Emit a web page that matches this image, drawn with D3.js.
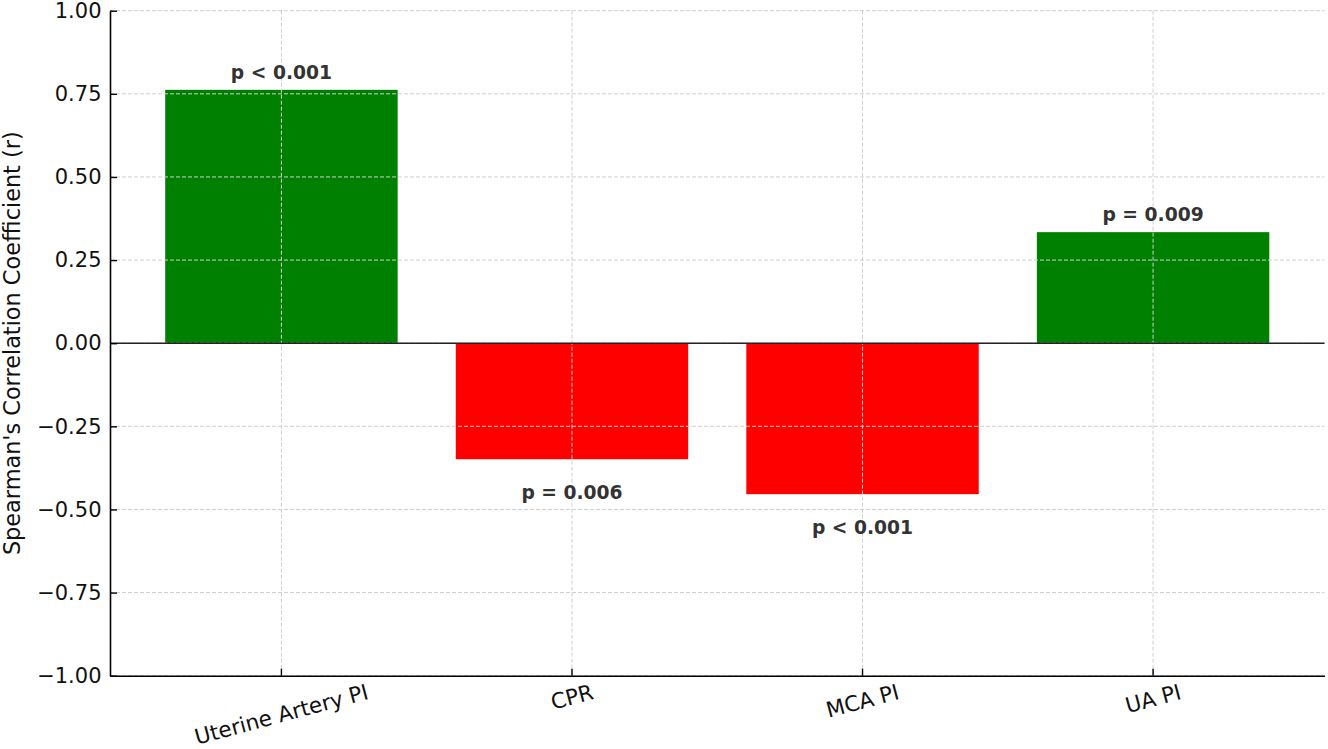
<!DOCTYPE html>
<html>
<head>
<meta charset="utf-8">
<script src="https://cdnjs.cloudflare.com/ajax/libs/d3/7.8.5/d3.min.js"></script>
<style>
  html, body { margin: 0; padding: 0; background: #fff; }
  svg { display: block; }
</style>
</head>
<body>
<div id="chart"></div>
<script>
// data
const categories = ["Uterine Artery PI", "CPR", "MCA PI", "UA PI"];
const rValues = [0.762, -0.349, -0.454, 0.334];
const pLabels = ["p < 0.001", "p = 0.006", "p < 0.001", "p = 0.009"];
const yTicks = [-1, -0.75, -0.5, -0.25, 0, 0.25, 0.5, 0.75, 1];

const W = 1328, H = 749;
const margin = {top: 10.7, right: 3.5, bottom: 73.3, left: 110};
const width = W - margin.left - margin.right,
      height = H - margin.top - margin.bottom;

const svg = d3.select("#chart")
  .append("svg")
    .attr("width", W)
    .attr("height", H);

const g = svg.append("g")
  .attr("transform", "translate(" + margin.left + "," + margin.top + ")");

const x = d3.scaleBand()
  .domain(categories)
  .range([0, width])
  .paddingInner(0.2)
  .paddingOuter(0.19);

const y = d3.scaleLinear()
  .domain([-1, 1])
  .range([height, 0]);

// bars
g.append("g")
  .selectAll("rect")
  .data(rValues)
  .enter()
  .append("rect")
    .attr("x", (d, i) => x(categories[i]))
    .attr("width", x.bandwidth())
    .attr("y", d => y(Math.max(0, d)))
    .attr("height", d => Math.abs(y(d) - y(0)))
    .attr("fill", d => d >= 0 ? "#008000" : "#ff0000");

// grid (drawn over the bars like the reference)
const grid = g.append("g")
  .attr("stroke", "#cfcfcf")
  .attr("stroke-width", 1)
  .attr("stroke-dasharray", "4,2");

grid.selectAll("line.h")
  .data(yTicks)
  .enter()
  .append("line")
    .attr("x1", 0).attr("x2", width)
    .attr("y1", d => y(d)).attr("y2", d => y(d));

grid.selectAll("line.v")
  .data(categories)
  .enter()
  .append("line")
    .attr("x1", d => x(d) + x.bandwidth() / 2)
    .attr("x2", d => x(d) + x.bandwidth() / 2)
    .attr("y1", 0).attr("y2", height);

// zero line
g.append("line")
  .attr("x1", 0).attr("x2", width)
  .attr("y1", y(0)).attr("y2", y(0))
  .attr("stroke", "#222")
  .attr("stroke-width", 1.6);

// y axis
const yAxis = g.append("g")
  .call(d3.axisLeft(y)
    .tickValues(yTicks)
    .tickSizeInner(-7)
    .tickSizeOuter(0)
    .tickPadding(8)
    .tickFormat(d => d3.format(".2f")(d).replace("-", "\u2212")));

yAxis.select(".domain").attr("stroke", "#000").attr("stroke-width", 1.6);
yAxis.selectAll(".tick line").attr("stroke", "#000").attr("stroke-width", 1.4);
yAxis.selectAll(".tick text")
  .attr("font-family", "DejaVu Sans")
  .attr("font-size", 21)
  .attr("fill", "#111")
  .attr("x", -8.5);

// x axis
const xAxis = g.append("g")
  .attr("transform", "translate(0," + height + ")")
  .call(d3.axisBottom(x).tickSizeInner(-7).tickSizeOuter(0));

xAxis.select(".domain").attr("stroke", "#000").attr("stroke-width", 1.6);
xAxis.selectAll(".tick line").attr("stroke", "#000").attr("stroke-width", 1.4);

const angle = 15 * Math.PI / 180;
xAxis.selectAll(".tick text")
  .attr("font-family", "DejaVu Sans")
  .attr("font-size", 21.5)
  .attr("fill", "#111")
  .attr("text-anchor", "middle")
  .attr("dominant-baseline", "central")
  .attr("y", 0)
  .attr("dy", null)
  .each(function() {
    const len = this.getComputedTextLength();
    const boxH = len * Math.sin(angle) + 22 * Math.cos(angle);
    const cy = 5 + boxH / 2;
    d3.select(this).attr("transform", "translate(0," + cy + ") rotate(-15)");
  });

// p-value labels
g.append("g")
  .selectAll("text")
  .data(rValues)
  .enter()
  .append("text")
    .attr("x", (d, i) => x(categories[i]) + x.bandwidth() / 2)
    .attr("y", d => d >= 0 ? y(d) - 11 : y(d) + 39.5)
    .attr("text-anchor", "middle")
    .attr("font-family", "DejaVu Sans")
    .attr("font-weight", "bold")
    .attr("font-size", 18.7)
    .attr("fill", "#333")
    .text((d, i) => pLabels[i]);

// y label
svg.append("text")
  .attr("transform", "translate(20," + (margin.top + height / 2) + ") rotate(-90)")
  .attr("text-anchor", "middle")
  .attr("font-family", "DejaVu Sans")
  .attr("font-size", 22.4)
  .attr("fill", "#111")
  .text("Spearman's Correlation Coefficient (r)");
</script>
</body>
</html>
